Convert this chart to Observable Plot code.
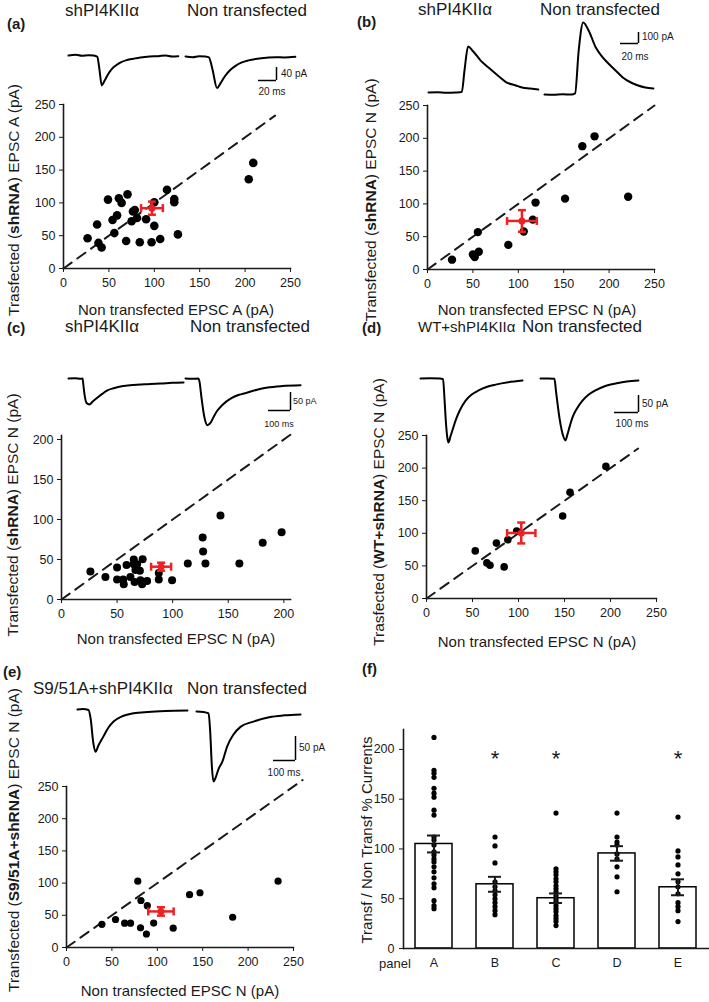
<!DOCTYPE html>
<html><head><meta charset="utf-8">
<script src="https://cdn.jsdelivr.net/npm/d3@7"></script>
<script src="https://cdn.jsdelivr.net/npm/@observablehq/plot@0.6"></script>
<style>
body{margin:0;background:#fff;font-family:"Liberation Sans",Arial,Helvetica,sans-serif;}
#fig{position:relative;width:709px;height:1002px;overflow:hidden;background:#fff;}
.t{position:absolute;line-height:1;white-space:nowrap;color:#1a1a1a;}
</style></head><body><div id="fig"></div>
<script>
// ---------------- DATA ----------------
// scatter panels: [non transfected, transfected] (pA)
const scatterA = [[26.5,46],[37,67],[38.5,39],[42,32],[49,105],[54,74],[56,54],[59,81],[61,107],[64,100],[69,42],[70.5,113],[75,72],[76.5,87],[78.5,89],[81,77],[84,40],[91,75],[97,40],[100,101],[100,65],[106.5,45],[114,120],[122,106],[122,101],[126,52],[204,136],[209,161]];
const scatterB = [[27,15],[50,23],[52,19],[56.5,27],[55.5,57],[89,37.5],[106,58],[116,76],[119,102],[151.5,108],[170.5,188],[184,203],[221,111]];
const scatterC = [[26,35],[39.5,28],[50,40],[50,25],[55.5,25],[56,19],[58.5,43],[62,28],[65,50],[65,44],[66.5,37],[68,44],[70.5,36],[65.7,22],[71,24],[72.5,19],[73,50.4],[77,23],[87.5,25],[87.5,33],[99.5,24],[113.6,45],[127,77.5],[127.4,60],[129.5,45],[143,105],[160,45],[181,71],[198,84]];
const scatterD = [[53,73],[65.6,54.6],[69,51],[76,85],[84.4,48.5],[88.4,90],[98,103.6],[148,126.5],[156,163],[195,202.6]];
const scatterE = [[39,36],[54,43.5],[64,37.7],[70.5,37.7],[78.5,103],[81.5,30.6],[82,73],[89,65],[88,21],[96,38],[117.5,30],[135.5,82],[147,85],[183,47],[233,103]];
// mean +/- SEM: [x, y, xSEM, ySEM]
const meanA = [97.4, 92, 12, 10];
const meanB = [104, 74, 16.4, 16.5];
const meanC = [89.6, 41, 9, 5];
const meanD = [103, 100.5, 15.4, 16];
const meanE = [104, 56, 14, 6.5];

// example traces: [time ms, current pA]
const traceA1 = [[0,0],[8,2],[15,-1],[22,1],[28,0],[32,-4],[34,-35],[37,-92],[40,-78],[44,-58],[48,-42],[53,-30],[58,-21],[65,-14],[72,-10],[80,-6],[90,-3],[100,-2],[108,0],[115,-3],[122,-2]];
const traceA2 = [[0,0],[8,-2],[15,1],[22,0],[26,-3],[30,-40],[35,-97],[39,-82],[44,-60],[50,-41],[56,-28],[62,-19],[70,-12],[80,-7],[90,-4],[100,-2],[110,-3],[122,-1]];
const traceB1 = [[0,0],[10,2],[20,-3],[30,0],[37,5],[40,200],[44,418],[49,380],[58,290],[67,225],[77,155],[86,95],[97,64],[104,45],[113,36],[122,27]];
const traceB2 = [[0,0],[10,-2],[20,2],[30,0],[34,10],[38,400],[43,655],[49,582],[57,427],[64,345],[71,282],[79,218],[87,155],[96,109],[104,82],[112,64],[121,55]];
const traceC1 = [[0,0],[30,1],[55,-1],[64,0],[68,-20],[73,-45],[82,-68],[95,-72],[110,-64],[132,-53],[155,-42],[177,-33],[205,-27],[236,-22],[280,-19],[327,-17],[372,-15],[418,-14],[470,-12],[523,-11]];
const traceC2 = [[0,0],[30,-1],[58,0],[64,-10],[72,-50],[85,-105],[100,-130],[115,-122],[130,-104],[145,-89],[170,-72],[205,-56],[240,-46],[282,-39],[325,-31],[373,-25],[440,-21],[523,-19]];
const traceD1 = [[0,0],[40,1],[80,0],[94,-2],[100,-60],[106,-130],[112,-175],[117,-188],[125,-170],[135,-148],[146,-124],[165,-92],[188,-65],[212,-48],[242,-35],[275,-25],[313,-18],[365,-11],[425,-6]];
const traceD2 = [[0,0],[30,0],[58,-1],[65,-40],[80,-120],[95,-170],[104,-182],[112,-165],[122,-140],[133,-115],[152,-88],[175,-65],[200,-48],[229,-35],[270,-22],[313,-15],[360,-9],[408,-6]];
const traceE1 = [[0,0],[25,1],[50,-1],[60,-20],[72,-70],[82,-88],[95,-75],[118,-56],[140,-38],[164,-25],[200,-15],[255,-8],[320,-5],[400,-3],[500,-2]];
const traceE2 = [[0,0],[30,-1],[55,-4],[62,-40],[70,-115],[77,-146],[85,-140],[100,-120],[118,-104],[140,-72],[168,-48],[200,-32],[259,-21],[330,-12],[400,-8],[473,-6]];

// bar chart (f)
const panels = ["A","B","C","D","E"];
const barMeans = [105, 64.5, 50.5, 95.5, 61.5];
const barSEM = [8.5, 7.5, 4.8, 7.3, 8];
const ratiosA = [212,179,176,172,161,156,152,139,134,112,109,104,97,94,90,87,82,77,71,65,61,48,43,40];
const ratiosB = [112,103,86,67,62,58,54,50,46,42,38,34];
const ratiosC = [136,80,77,74,70,67,63,60,57,53,50,47,43,40,37,33,30,27,23];
const ratiosD = [136,112,107,104,95,90,82,72,57];
const ratiosE = [132,98,92,84,75,67,62,55,46,42,38,27];
const significant = ["B","C","E"];

// ---------------- RENDER ----------------
const FONT = '"Liberation Sans", Arial, Helvetica, sans-serif';
const RED = "#ee2024";
const fig = document.getElementById("fig");
function place(el, left, top){ el.style.position="absolute"; el.style.left=left+"px"; el.style.top=top+"px"; fig.appendChild(el); }
function txt(x, y, html, o={}) {
  const d = document.createElement("div"); d.className="t"; d.innerHTML = html;
  d.style.fontSize = (o.size||16)+"px"; if (o.bold) d.style.fontWeight = "bold";
  d.style.left = x+"px"; d.style.top = y+"px";
  const tx = o.anchor==="middle" ? "-50%" : o.anchor==="end" ? "-100%" : "0";
  d.style.transform = o.rotate ? "translate(-50%,-50%) rotate(-90deg)" : `translate(${tx},-50%)`;
  fig.appendChild(d);
}
const vCap = {draw(ctx,size){const h=Math.sqrt(size/Math.PI); ctx.moveTo(0,-h); ctx.lineTo(0,h);}};
const hCap = {draw(ctx,size){const h=Math.sqrt(size/Math.PI); ctx.moveTo(-h,0); ctx.lineTo(h,0);}};

function scatter(c) {
  const m = c.mean;
  const el = Plot.plot({
    width: c.width, height: c.height,
    marginLeft: c.mL, marginRight: c.mR, marginTop: c.mT, marginBottom: c.mB,
    style: {fontFamily: FONT, fontSize: "12.5px", color: "#1a1a1a", background: "transparent", overflow: "visible"},
    x: {domain: [0, c.xMax], ticks: c.xTicks, tickSize: 4, tickPadding: 6, label: null},
    y: {domain: [0, c.yMax], ticks: c.yTicks, tickSize: 4, tickPadding: 4, label: null},
    marks: [
      Plot.frame({anchor: "left", strokeWidth: 1.6}),
      Plot.frame({anchor: "bottom", strokeWidth: 1.6}),
      Plot.line([[0,0],[c.diag,c.diag]], {strokeDasharray: "10,7", strokeWidth: 2}),
      Plot.dot(c.pts, {x: d=>d[0], y: d=>d[1], r: c.r, fill: "black"}),
      Plot.ruleY([m], {x1: d=>d[0]-d[2], x2: d=>d[0]+d[2], y: d=>d[1], stroke: RED, strokeWidth: 2.5}),
      Plot.ruleX([m], {x: d=>d[0], y1: d=>d[1]-d[3], y2: d=>d[1]+d[3], stroke: RED, strokeWidth: 2.5}),
      Plot.dot([m[0]-m[2], m[0]+m[2]], {x: d=>d, y: ()=>m[1], symbol: vCap, r: 4, stroke: RED, strokeWidth: 2.5, fill: "none"}),
      Plot.dot([m[1]-m[3], m[1]+m[3]], {x: ()=>m[0], y: d=>d, symbol: hCap, r: 4, stroke: RED, strokeWidth: 2.5, fill: "none"}),
      Plot.dot([m], {x: d=>d[0], y: d=>d[1], r: 3.5, fill: RED})
    ]
  });
  place(el, c.left, c.top);
}

function traces(c) {
  const W = c.width, H = c.height;
  const toMs = px => (px - c.left)/c.pxMs;
  const toPA = py => (c.baseY - py)/c.pxPA;
  const marks = c.traces.map(t => Plot.line(t.data, {
    x: d => d[0] + toMs(t.x0), y: d => d[1] + toPA(t.y0),
    stroke: "black", strokeWidth: 2, curve: "monotone-x"}));
  const bx = toMs(c.bar.x), by = toPA(c.bar.yBottom);
  marks.push(Plot.ruleX([bx], {y1: by, y2: by + c.bar.pA, strokeWidth: 1.5}));
  marks.push(Plot.ruleY([by], {x1: bx - c.bar.ms, x2: bx, strokeWidth: 1.5}));
  const el = Plot.plot({
    width: W, height: H, marginLeft: 0, marginRight: 0, marginTop: 0, marginBottom: 0,
    style: {background: "transparent", overflow: "visible"},
    x: {domain: [0, W/c.pxMs], range: [0, W], axis: null},
    y: {domain: [toPA(c.top+H), toPA(c.top)], range: [H, 0], axis: null},
    marks
  });
  place(el, c.left, c.top);
  txt(c.bar.pALabel[0], c.bar.pALabel[1], c.bar.pA + " pA", {size: c.bar.fs});
  txt(c.bar.msLabel[0], c.bar.msLabel[1], c.bar.ms + " ms", {size: c.bar.fs, anchor: "middle"});
}

const T5 = [0,50,100,150,200,250];
const T4 = [0,50,100,150,200];

// ----- panel (a)
txt(7, 23, "(a)", {size: 15, bold: true});
txt(65, 10, "shPI4KII&alpha;", {size: 17});
txt(187, 10, "Non transfected", {size: 17});
traces({left: 0, top: 28, width: 354, height: 75, baseY: 55, pxMs: 18/20, pxPA: 13/40,
  traces: [{data: traceA1, x0: 68, y0: 55}, {data: traceA2, x0: 185, y0: 56}],
  bar: {x: 276, yBottom: 80, ms: 20, pA: 40, pALabel: [281, 74], msLabel: [272, 92], fs: 10}});
scatter({left: 0, top: 90, width: 354, height: 240, mL: 63, mR: 64, mT: 14, mB: 62,
  xMax: 250, yMax: 250, xTicks: T5, yTicks: T5, diag: 233, r: 4.3, pts: scatterA, mean: meanA});
txt(176, 309, "Non transfected EPSC A (pA)", {size: 15, anchor: "middle"});
txt(14, 200, "Trasfected (<b>shRNA</b>) EPSC A (pA)", {size: 15.5, rotate: true});

// ----- panel (b)
txt(357, 21, "(b)", {size: 15, bold: true});
txt(418, 9, "shPI4KII&alpha;", {size: 17});
txt(540, 9, "Non transfected", {size: 17});
traces({left: 355, top: 10, width: 354, height: 95, baseY: 92, pxMs: 18/20, pxPA: 11/100,
  traces: [{data: traceB1, x0: 428, y0: 92}, {data: traceB2, x0: 544, y0: 94}],
  bar: {x: 638, yBottom: 43, ms: 20, pA: 100, pALabel: [642, 37], msLabel: [635, 57], fs: 10}});
scatter({left: 355, top: 90, width: 354, height: 240, mL: 72, mR: 55, mT: 15, mB: 61,
  xMax: 250, yMax: 250, xTicks: T5, yTicks: T5, diag: 250, r: 4.2, pts: scatterB, mean: meanB});
txt(537, 309, "Non transfected EPSC N (pA)", {size: 15, anchor: "middle"});
txt(371, 200, "Transfected (<b>shRNA</b>) EPSC N (pA)", {size: 15.5, rotate: true});

// ----- panel (c)
txt(7, 327, "(c)", {size: 15, bold: true});
txt(65, 326, "shPI4KII&alpha;", {size: 17});
txt(190, 326, "Non transfected", {size: 17});
traces({left: 0, top: 335, width: 354, height: 100, baseY: 378, pxMs: 22/100, pxPA: 18/50,
  traces: [{data: traceC1, x0: 68, y0: 378}, {data: traceC2, x0: 185, y0: 378}],
  bar: {x: 290, yBottom: 410, ms: 100, pA: 50, pALabel: [293, 401], msLabel: [279, 424], fs: 9}});
scatter({left: 0, top: 420, width: 354, height: 240, mL: 61, mR: 64, mT: 15, mB: 61,
  xMax: 206, yMax: 205, xTicks: T4, yTicks: T4, diag: 206, r: 4, pts: scatterC, mean: meanC});
txt(176, 638, "Non transfected EPSC N (pA)", {size: 15, anchor: "middle"});
txt(13, 515, "Transfected (<b>shRNA</b>) EPSC N (pA)", {size: 15.5, rotate: true});

// ----- panel (d)
txt(362, 327, "(d)", {size: 15, bold: true});
txt(418, 326, "WT+shPI4KII&alpha;", {size: 15});
txt(522, 326, "Non transfected", {size: 17});
traces({left: 355, top: 335, width: 354, height: 110, baseY: 378, pxMs: 24/100, pxPA: 17/50,
  traces: [{data: traceD1, x0: 420, y0: 378}, {data: traceD2, x0: 540, y0: 378}],
  bar: {x: 638, yBottom: 412, ms: 100, pA: 50, pALabel: [642, 404], msLabel: [632, 424], fs: 10}});
scatter({left: 355, top: 420, width: 354, height: 240, mL: 71, mR: 53, mT: 15, mB: 62,
  xMax: 250, yMax: 250, xTicks: T5, yTicks: T5, diag: 230, r: 3.8, pts: scatterD, mean: meanD});
txt(537, 641, "Non transfected EPSC N (pA)", {size: 15, anchor: "middle"});
txt(379, 512, "Trasfected (<b>WT+shRNA</b>) EPSC N (pA)", {size: 15.5, rotate: true});

// ----- panel (e)
txt(3, 671, "(e)", {size: 15, bold: true});
txt(33, 688, "S9/51A+shPI4KII&alpha;", {size: 17});
txt(187, 688, "Non transfected", {size: 17});
traces({left: 0, top: 695, width: 354, height: 95, baseY: 710, pxMs: 22/100, pxPA: 24/50,
  traces: [{data: traceE1, x0: 77, y0: 709}, {data: traceE2, x0: 196, y0: 711}],
  bar: {x: 295, yBottom: 760, ms: 100, pA: 50, pALabel: [299, 748], msLabel: [284, 773], fs: 10}});
scatter({left: 0, top: 770, width: 354, height: 232, mL: 66, mR: 61, mT: 16, mB: 55,
  xMax: 250, yMax: 250, xTicks: T5, yTicks: T5, diag: 260, r: 3.6, pts: scatterE, mean: meanE});
txt(180, 990, "Non transfected EPSC N (pA)", {size: 15, anchor: "middle"});
txt(14, 840, "Transfected (<b>S9/51A+shRNA</b>) EPSC N (pA)", {size: 15.5, rotate: true});

// ----- panel (f)
txt(362, 668, "(f)", {size: 15, bold: true});
const barData = panels.map((p,i) => ({panel: p, mean: barMeans[i], sem: barSEM[i]}));
const ratioSets = [ratiosA, ratiosB, ratiosC, ratiosD, ratiosE];
const ratioPoints = ratioSets.flatMap((arr,i) => arr.map(v => ({panel: panels[i], v})));
const fPlot = Plot.plot({
  width: 354, height: 290, marginLeft: 48, marginRight: 1, marginTop: 29, marginBottom: 42,
  style: {fontFamily: FONT, fontSize: "12.5px", color: "#1a1a1a", background: "transparent", overflow: "visible"},
  x: {domain: panels, paddingInner: 0.39, paddingOuter: 0.195, tickSize: 0, tickPadding: 10, label: null},
  y: {domain: [0, 220], ticks: T4, tickSize: 4, tickPadding: 5, label: null},
  marks: [
    Plot.barY(barData, {x: "panel", y: "mean", fill: "white", stroke: "black", strokeWidth: 1.5}),
    Plot.dot(ratioPoints, {x: "panel", y: "v", r: 2.6, fill: "black"}),
    Plot.ruleX(barData, {x: "panel", y1: d=>d.mean-d.sem, y2: d=>d.mean+d.sem, strokeWidth: 2}),
    Plot.tickY(barData, {x: "panel", y: d=>d.mean+d.sem, insetLeft: 12, insetRight: 12, strokeWidth: 2}),
    Plot.tickY(barData, {x: "panel", y: d=>d.mean-d.sem, insetLeft: 12, insetRight: 12, strokeWidth: 2}),
    Plot.text(significant, {x: d=>d, y: ()=>195, text: ()=>"*", fontSize: 22, dy: 5}),
    Plot.frame({anchor: "left", strokeWidth: 1.6}),
    Plot.frame({anchor: "bottom", strokeWidth: 1.6})
  ]
});
place(fPlot, 355, 700);
txt(395, 963, "panel", {size: 13, anchor: "middle"});
txt(366, 840, "Transf / Non Transf % Currents", {size: 15, rotate: true});
</script>
</body></html>
